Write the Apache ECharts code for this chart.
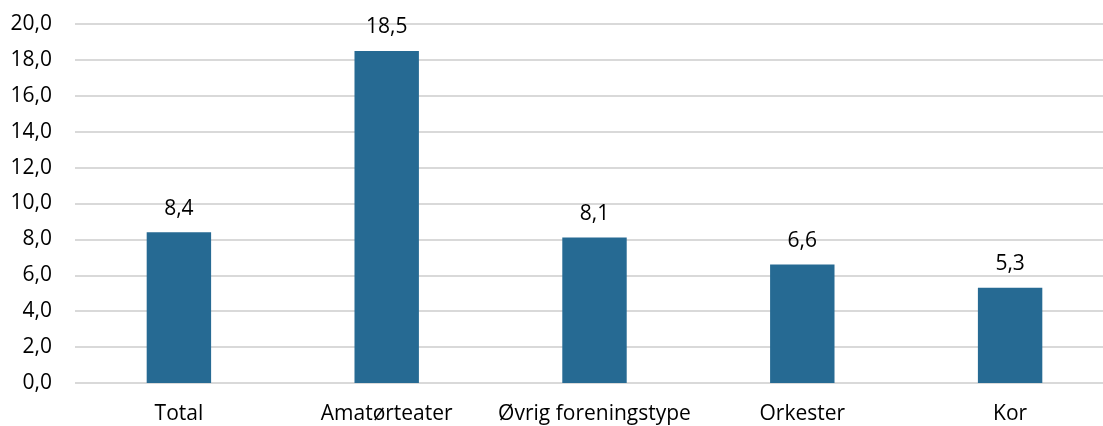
<!DOCTYPE html>
<html>
<head>
<meta charset="utf-8">
<script src="https://cdn.jsdelivr.net/npm/echarts@6/dist/echarts.min.js"></script>
<style>html,body{margin:0;padding:0;background:#fff}#c{width:1103px;height:426px}</style>
</head>
<body>
<div id="c"></div>
<script>
const categories = ["Total", "Amatørteater", "Øvrig foreningstype", "Orkester", "Kor"];
const values = [8.4, 18.5, 8.1, 6.6, 5.3];
const fmt = v => v.toFixed(1).replace('.', ',');
const chart = echarts.init(document.getElementById('c'), null, {renderer: 'canvas'});
chart.setOption({
  animation: false,
  textStyle: {fontFamily: 'Open Sans'},
  grid: {left: 75, top: 24, right: -11, bottom: 43, containLabel: false, outerBoundsMode: 'none'},
  xAxis: {
    type: 'category',
    data: categories,
    axisLine: {show: false},
    axisTick: {show: false},
    axisLabel: {color: '#000', fontSize: 21, margin: 21, fontFamily: 'Open Sans', interval: 0}
  },
  yAxis: {
    type: 'value',
    min: 0, max: 20, interval: 2,
    axisLine: {show: false},
    axisTick: {show: false},
    splitLine: {lineStyle: {color: '#d9d9d9', width: 2}},
    axisLabel: {color: '#000', fontSize: 21, margin: 23, fontFamily: 'Open Sans', formatter: v => fmt(v)}
  },
  series: [{
    type: 'bar',
    data: values,
    barWidth: '31%',
    itemStyle: {color: '#266a93'},
    label: {show: true, position: 'top', distance: 13, color: '#000', fontSize: 21, fontFamily: 'Open Sans', formatter: p => fmt(p.value)}
  }]
});
</script>
</body>
</html>
